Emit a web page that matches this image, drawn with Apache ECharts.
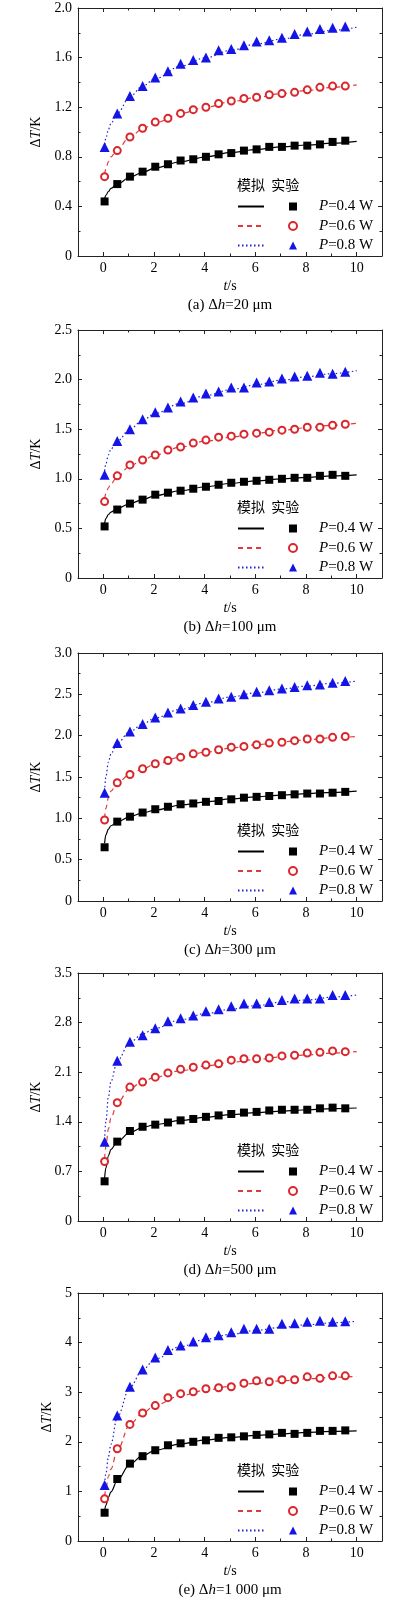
<!DOCTYPE html>
<html>
<head>
<meta charset="utf-8">
<script src="https://cdn.jsdelivr.net/npm/echarts@6/dist/echarts.min.js"></script>
<style>
html, body { margin: 0; padding: 0; background: #fff; }
#main { width: 414px; height: 1600px; }
</style>
</head>
<body>
<div id="main"></div>
<script>
// 实验测点时间 / 模拟曲线采样时间
var tExp = [0.05, 0.55, 1.05, 1.55, 2.05, 2.55, 3.05, 3.55, 4.05, 4.55, 5.05, 5.55, 6.05, 6.55, 7.05, 7.55, 8.05, 8.55, 9.05, 9.55];
var tSim = [0.05, 0.1, 0.2, 0.3, 0.55, 1.05, 1.55, 2.05, 3.05, 4.05, 5.05, 6.05, 7.05, 8.05, 9.05, 10];
var xMajor = [0, 2, 4, 6, 8, 10];
var xMinor = [1, 3, 5, 7, 9];
var powers = ['P=0.4 W', 'P=0.6 W', 'P=0.8 W'];
var captions = ['(a) Δ', '(b) Δ', '(c) Δ', '(d) Δ', '(e) Δ'];
var dhLabels = ['=20 μm', '=100 μm', '=300 μm', '=500 μm', '=1 000 μm'];
var yMaxes = [2.0, 2.5, 3.0, 3.5, 5];
var ySteps = [0.4, 0.5, 0.5, 0.7, 1];

// (a) Δh=20 μm
var expA04 = [0.44, 0.58, 0.64, 0.68, 0.72, 0.74, 0.77, 0.78, 0.80, 0.82, 0.83, 0.85, 0.86, 0.88, 0.88, 0.89, 0.89, 0.90, 0.92, 0.93];
var expA06 = [0.64, 0.85, 0.96, 1.03, 1.08, 1.11, 1.15, 1.18, 1.20, 1.23, 1.25, 1.27, 1.28, 1.30, 1.31, 1.32, 1.34, 1.36, 1.37, 1.37];
var expA08 = [0.88, 1.15, 1.29, 1.37, 1.44, 1.49, 1.55, 1.58, 1.60, 1.66, 1.67, 1.70, 1.73, 1.74, 1.76, 1.79, 1.81, 1.83, 1.84, 1.85];
var simA04 = [0.46, 0.49, 0.52, 0.545, 0.58, 0.635, 0.675, 0.71, 0.76, 0.80, 0.835, 0.86, 0.88, 0.895, 0.91, 0.925];
var simA06 = [0.66, 0.70, 0.76, 0.80, 0.86, 0.96, 1.025, 1.075, 1.15, 1.20, 1.245, 1.28, 1.31, 1.335, 1.36, 1.38];
var simA08 = [0.90, 0.95, 1.02, 1.07, 1.15, 1.285, 1.37, 1.43, 1.53, 1.60, 1.66, 1.71, 1.75, 1.79, 1.82, 1.845];

// (b) Δh=100 μm
var expB04 = [0.52, 0.69, 0.75, 0.79, 0.84, 0.86, 0.88, 0.90, 0.92, 0.94, 0.96, 0.97, 0.98, 0.99, 1.00, 1.01, 1.01, 1.03, 1.04, 1.03];
var expB06 = [0.77, 1.03, 1.14, 1.19, 1.24, 1.29, 1.32, 1.36, 1.39, 1.42, 1.43, 1.45, 1.46, 1.47, 1.49, 1.50, 1.52, 1.52, 1.54, 1.55];
var expB08 = [1.04, 1.38, 1.50, 1.60, 1.67, 1.72, 1.78, 1.82, 1.86, 1.88, 1.92, 1.92, 1.97, 1.98, 2.01, 2.03, 2.04, 2.07, 2.06, 2.08];
var simB04 = [0.55, 0.60, 0.64, 0.665, 0.70, 0.75, 0.79, 0.83, 0.88, 0.92, 0.955, 0.98, 1.00, 1.015, 1.03, 1.04];
var simB06 = [0.80, 0.85, 0.91, 0.95, 1.02, 1.13, 1.19, 1.24, 1.32, 1.38, 1.42, 1.46, 1.49, 1.515, 1.54, 1.56];
var simB08 = [1.08, 1.15, 1.24, 1.30, 1.38, 1.50, 1.59, 1.66, 1.76, 1.84, 1.90, 1.95, 1.995, 2.03, 2.06, 2.09];

// (c) Δh=300 μm
var expC04 = [0.65, 0.96, 1.02, 1.07, 1.11, 1.14, 1.17, 1.18, 1.20, 1.21, 1.23, 1.25, 1.26, 1.27, 1.28, 1.29, 1.30, 1.30, 1.31, 1.32];
var expC06 = [0.98, 1.43, 1.53, 1.60, 1.66, 1.70, 1.74, 1.78, 1.80, 1.83, 1.86, 1.87, 1.89, 1.91, 1.92, 1.94, 1.96, 1.96, 1.98, 1.99];
var expC08 = [1.31, 1.91, 2.05, 2.14, 2.22, 2.28, 2.33, 2.37, 2.41, 2.45, 2.47, 2.50, 2.53, 2.55, 2.57, 2.59, 2.61, 2.62, 2.64, 2.66];
var simC04 = [0.70, 0.80, 0.87, 0.91, 0.955, 1.02, 1.065, 1.10, 1.16, 1.20, 1.235, 1.26, 1.28, 1.30, 1.315, 1.33];
var simC06 = [1.00, 1.12, 1.25, 1.33, 1.43, 1.53, 1.60, 1.655, 1.74, 1.80, 1.85, 1.89, 1.925, 1.95, 1.975, 1.99];
var simC08 = [1.33, 1.50, 1.68, 1.78, 1.91, 2.05, 2.14, 2.215, 2.32, 2.40, 2.47, 2.52, 2.565, 2.60, 2.635, 2.66];

// (d) Δh=500 μm
var expD04 = [0.56, 1.12, 1.27, 1.33, 1.36, 1.39, 1.42, 1.44, 1.47, 1.49, 1.51, 1.53, 1.54, 1.56, 1.57, 1.57, 1.57, 1.59, 1.60, 1.59];
var expD06 = [0.84, 1.67, 1.89, 1.96, 2.03, 2.09, 2.14, 2.17, 2.20, 2.22, 2.27, 2.29, 2.29, 2.30, 2.33, 2.34, 2.37, 2.38, 2.40, 2.39];
var expD08 = [1.12, 2.26, 2.53, 2.62, 2.72, 2.82, 2.86, 2.90, 2.96, 2.99, 3.03, 3.07, 3.07, 3.09, 3.12, 3.14, 3.14, 3.14, 3.19, 3.19];
var simD04 = [0.60, 0.75, 0.92, 1.01, 1.12, 1.25, 1.32, 1.36, 1.42, 1.465, 1.50, 1.53, 1.55, 1.57, 1.585, 1.595];
var simD06 = [0.88, 1.05, 1.30, 1.45, 1.67, 1.87, 1.97, 2.03, 2.12, 2.19, 2.24, 2.28, 2.315, 2.345, 2.37, 2.39];
var simD08 = [1.15, 1.40, 1.75, 1.97, 2.26, 2.52, 2.64, 2.72, 2.84, 2.93, 2.99, 3.04, 3.09, 3.12, 3.16, 3.19];

// (e) Δh=1 000 μm
var expE04 = [0.57, 1.25, 1.56, 1.71, 1.83, 1.93, 1.97, 2.00, 2.03, 2.08, 2.09, 2.11, 2.14, 2.15, 2.18, 2.16, 2.18, 2.22, 2.22, 2.23];
var expE06 = [0.85, 1.86, 2.35, 2.58, 2.73, 2.89, 2.97, 3.01, 3.07, 3.09, 3.11, 3.18, 3.23, 3.21, 3.25, 3.25, 3.31, 3.28, 3.33, 3.33];
var expE08 = [1.13, 2.53, 3.11, 3.46, 3.70, 3.85, 3.94, 4.02, 4.11, 4.15, 4.21, 4.28, 4.28, 4.28, 4.38, 4.39, 4.42, 4.44, 4.42, 4.43];
var simE04 = [0.60, 0.72, 0.88, 0.99, 1.22, 1.55, 1.72, 1.83, 1.96, 2.04, 2.09, 2.13, 2.16, 2.19, 2.21, 2.22];
var simE06 = [0.90, 1.05, 1.30, 1.45, 1.83, 2.35, 2.58, 2.74, 2.93, 3.04, 3.12, 3.18, 3.23, 3.27, 3.30, 3.32];
var simE08 = [1.15, 1.35, 1.70, 1.95, 2.50, 3.10, 3.45, 3.67, 3.92, 4.07, 4.17, 4.25, 4.31, 4.36, 4.40, 4.43];

var expData = [[expA04, expA06, expA08], [expB04, expB06, expB08], [expC04, expC06, expC08], [expD04, expD06, expD08], [expE04, expE06, expE08]];
var simData = [[simA04, simA06, simA08], [simB04, simB06, simB08], [simC04, simC06, simC08], [simD04, simD06, simD08], [simE04, simE06, simE08]];

var SERIF = '"Liberation Serif", "Times New Roman", serif';
var CJK = '"Noto Sans CJK SC", sans-serif';
var gridTops = [8, 330, 653, 973, 1293];
var gridH = 248, gridL = 78, gridR = 32;
var yNameGaps = [27, 27, 27, 27, 22];
var AX = '#222';

var lineColors = ['#000000', '#e0383c', '#1f22c8'];
var markColors = ['#000000', '#d9272c', '#1414e6'];
var markSymbols = ['rect', 'emptyCircle', 'triangle'];
var markSizes = [8, 7, 10];

function lineType(s) {
    return s === 0 ? 'solid' : (s === 1 ? [5, 4] : [1.5, 2.5]);
}
function pairs(ts, vs) {
    var out = [];
    for (var k = 0; k < vs.length; k++) out.push([ts[k], vs[k]]);
    return out;
}
function rich(size) {
    return {
        i: { fontFamily: SERIF, fontSize: size, fontStyle: 'italic', color: '#000' },
        n: { fontFamily: SERIF, fontSize: size, color: '#000' }
    };
}
function yFormatter(dec) {
    return function (v) { return v === 0 ? '0' : v.toFixed(dec); };
}

var option = {
    backgroundColor: '#fff',
    animation: false,
    grid: [], xAxis: [], yAxis: [], series: [], legend: [], graphic: []
};

for (var i = 0; i < 5; i++) {
    var gTop = gridTops[i];
    option.grid.push({ left: gridL, right: gridR, top: gTop, height: gridH });

    // x axes: bottom (major + minor), top (major + minor)
    ['bottom', 'top'].forEach(function (pos) {
        option.xAxis.push({
            gridIndex: i, type: 'value', position: pos, min: -1, max: 11,
            axisLine: { show: true, onZero: false, lineStyle: { color: AX, width: 1 } },
            axisTick: { show: true, inside: true, length: 4, customValues: xMajor.slice(), lineStyle: { color: AX } },
            axisLabel: pos === 'bottom'
                ? { show: true, customValues: xMajor.slice(), margin: 5, fontFamily: SERIF, fontSize: 14, color: '#000' }
                : { show: false },
            splitLine: { show: false },
            name: pos === 'bottom' ? '{i|t}{n|/s}' : '',
            nameLocation: 'middle', nameGap: 23,
            nameTextStyle: { rich: rich(14) }
        });
        option.xAxis.push({
            gridIndex: i, type: 'value', position: pos, min: -1, max: 11,
            axisLine: { show: false, onZero: false },
            axisTick: { show: true, inside: true, length: 2.5, customValues: xMinor.slice(), lineStyle: { color: AX } },
            axisLabel: { show: false },
            splitLine: { show: false }
        });
    });
    // y axes: left with labels, right mirrored
    ['left', 'right'].forEach(function (pos) {
        option.yAxis.push({
            gridIndex: i, type: 'value', position: pos, min: 0, max: yMaxes[i], interval: ySteps[i],
            axisLine: { show: true, onZero: false, lineStyle: { color: AX, width: 1 } },
            axisTick: { show: true, inside: true, length: 4, lineStyle: { color: AX } },
            minorTick: { show: true, splitNumber: 2, length: 2.5, lineStyle: { color: AX } },
            axisLabel: pos === 'left'
                ? { show: true, margin: 6, fontFamily: SERIF, fontSize: 14, color: '#000', formatter: yFormatter(ySteps[i] < 1 ? 1 : 0) }
                : { show: false },
            splitLine: { show: false },
            name: pos === 'left' ? '{n|Δ}{i|T}{n|/K}' : '',
            nameLocation: 'middle', nameGap: yNameGaps[i],
            nameTextStyle: { rich: rich(14) }
        });
    });

    var simNames = [], expNames = [];
    for (var s = 0; s < 3; s++) {
        var simName = 'sim ' + powers[s];
        simNames.push(simName);
        expNames.push(powers[s]);
        option.series.push({
            name: simName, type: 'line', xAxisIndex: i * 4, yAxisIndex: i * 2,
            data: pairs(tSim, simData[i][s]),
            smooth: 0.35, smoothMonotone: 'x', symbol: 'none',
            lineStyle: { color: lineColors[s], width: 1.2, type: lineType(s) },
            itemStyle: { color: lineColors[s] },
            z: 2
        });
        option.series.push({
            name: powers[s], type: 'scatter', xAxisIndex: i * 4, yAxisIndex: i * 2,
            data: pairs(tExp, expData[i][s]),
            symbol: markSymbols[s], symbolSize: markSizes[s],
            itemStyle: s === 1
                ? { color: markColors[s], borderColor: markColors[s], borderWidth: 1, opacity: 1 }
                : { color: markColors[s], opacity: 1 },
            z: 3
        });
    }

    // legend: line samples column, then marker + text column
    option.legend.push({
        data: simNames, orient: 'vertical', left: 237, top: gTop + 191, padding: 0,
        itemWidth: 26, itemHeight: 8, itemGap: 4.5, selectedMode: false,
        itemStyle: { opacity: 0 },
        formatter: function () { return ' '; },
        textStyle: { fontFamily: SERIF, fontSize: 15, lineHeight: 15 }
    });
    option.legend.push({
        data: expNames, orient: 'vertical', left: 288, top: gTop + 191, padding: 0,
        itemWidth: 8, itemHeight: 8, itemGap: 4.5, selectedMode: false,
        itemStyle: { opacity: 1 },
        formatter: function (name) { return '{i|P}{n|' + name.slice(1) + '}'; },
        textStyle: { fontFamily: SERIF, fontSize: 15, lineHeight: 15, padding: [0, 0, 0, 17], rich: rich(15) }
    });

    option.graphic.push({
        type: 'text', x: 237, y: gTop + 177,
        style: { text: '模拟  实验', font: '14px ' + CJK, fill: '#000', verticalAlign: 'middle' }
    });
    option.graphic.push({
        type: 'text', x: gridL + (414 - gridL - gridR) / 2, y: gTop + gridH + 49,
        style: {
            text: '{n|' + captions[i] + '}{i|h}{n|' + dhLabels[i] + '}',
            align: 'center', verticalAlign: 'middle',
            rich: rich(15)
        }
    });
}

var chart = echarts.init(document.getElementById('main'));
chart.setOption(option);
</script>
</body>
</html>
